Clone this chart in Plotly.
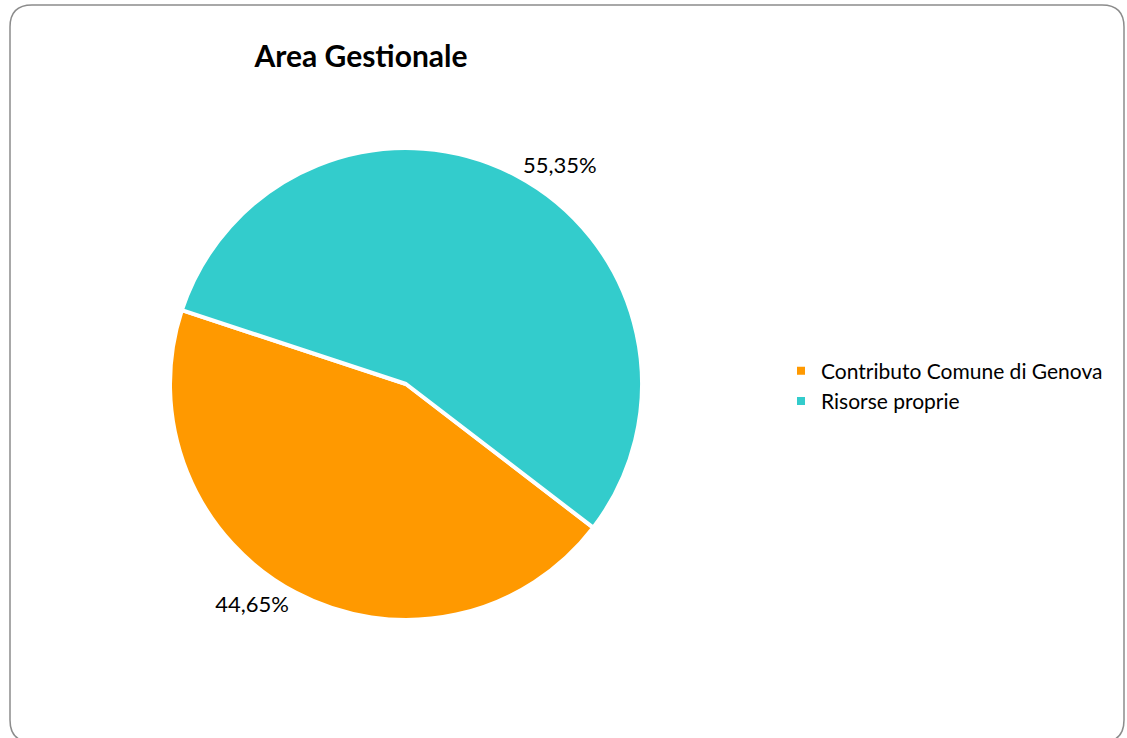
import plotly.graph_objects as go

categories = ["Contributo Comune di Genova", "Risorse proprie"]
values = [44.65, 55.35]
label_text = ["44,65%", "55,35%"]
colors = ["#FF9900", "#33CCCC"]
title_text = "Area Gestionale"

W, H = 1127, 738

def px_x(x):
    return x / W

def px_y(y):
    return 1 - y / H

fig = go.Figure()
fig.add_trace(go.Pie(
    labels=categories,
    values=values,
    text=label_text,
    textinfo="text",
    textposition="outside",
    sort=False,
    direction="clockwise",
    rotation=127.5,
    marker=dict(colors=colors, line=dict(color="white", width=4)),
    textfont=dict(family="Lato", size=22, color="#000000"),
    domain=dict(x=[px_x(170), px_x(642)], y=[px_y(620), px_y(148)]),
    hoverinfo="label+percent",
))

# rounded border
x0, x1 = px_x(10), px_x(1124)
y0, y1 = px_y(742), px_y(5)
rx, ry = 22 / W, 22 / H
path = (f"M {x0+rx},{y1} L {x1-rx},{y1} Q {x1},{y1} {x1},{y1-ry} "
        f"L {x1},{y0+ry} Q {x1},{y0} {x1-rx},{y0} L {x0+rx},{y0} "
        f"Q {x0},{y0} {x0},{y0+ry} L {x0},{y1-ry} Q {x0},{y1} {x0+rx},{y1} Z")
fig.add_shape(type="path", xref="paper", yref="paper", path=path,
              line=dict(color="#8c8c8c", width=1.5), fillcolor="rgba(0,0,0,0)")

fig.update_layout(
    width=W, height=H,
    margin=dict(l=0, r=0, t=0, b=0),
    paper_bgcolor="white",
    plot_bgcolor="white",
    title=dict(text=f"<b>{title_text}</b>", x=px_x(361), xanchor="center",
               y=px_y(56), yanchor="middle",
               font=dict(family="Lato", size=30, color="#000000")),
    legend=dict(x=px_x(781), y=px_y(386), xanchor="left", yanchor="middle",
                font=dict(family="Lato", size=21, color="#000000"),
                bgcolor="rgba(0,0,0,0)"),
    showlegend=True,
)

fig.write_html("out.html")
